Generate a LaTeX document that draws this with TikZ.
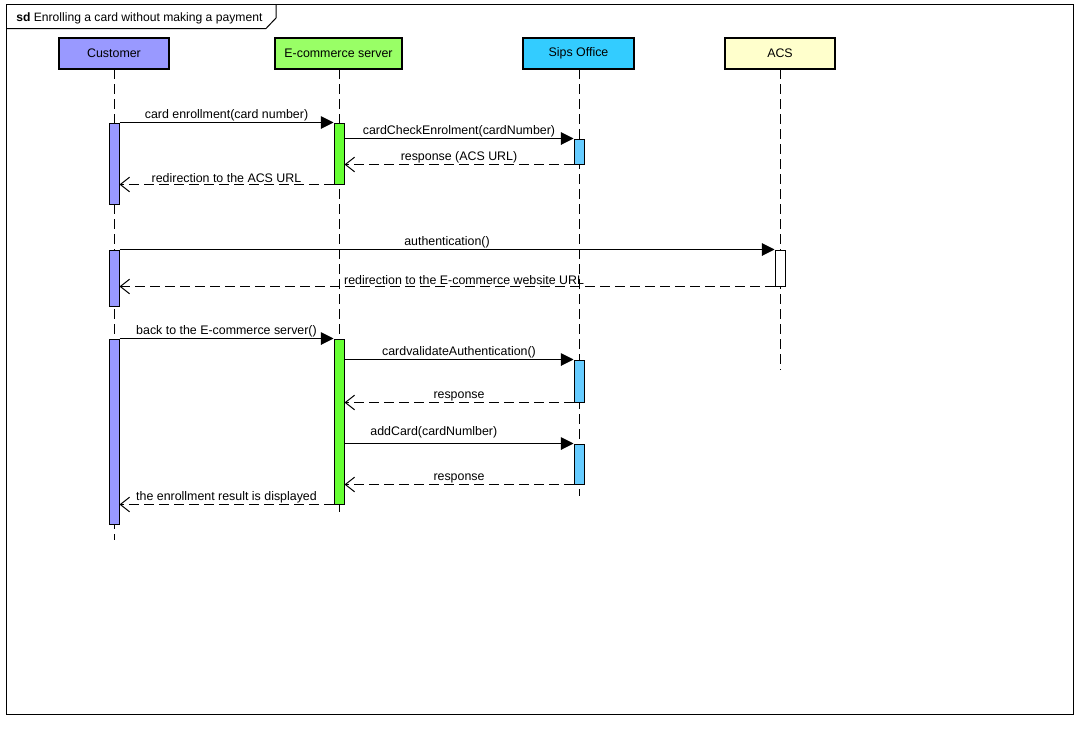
\documentclass[tikz,border=0pt]{standalone}
\usepackage{fontspec}
\setmainfont{Liberation Sans}
\usetikzlibrary{arrows.meta,fit}
\definecolor{custc}{HTML}{9999FF}
\definecolor{ecomh}{HTML}{99FF66}
\definecolor{ecoma}{HTML}{66FF33}
\definecolor{sipsh}{HTML}{33CCFF}
\definecolor{sipsa}{HTML}{66CCFF}
\definecolor{acsh}{HTML}{FFFFCC}
\tikzset{
  head/.style={draw=black, line width=1.5pt, minimum width=82.5pt, minimum height=23.25pt, inner sep=0pt, font=\fontsize{9.3}{10}\selectfont},
  act/.style={draw=black, line width=0.75pt, inner sep=0pt},
  life/.style={line width=0.75pt, dash pattern=on 7.5pt off 3.75pt},
  call/.style={line width=0.75pt, -{Triangle[length=9.5pt,width=9.5pt]}},
  reply/.style={line width=0.75pt, dash pattern=on 7.5pt off 3.75pt, -{Straight Barb[length=7pt,width=11pt,line width=0.75pt]}},
  lbl/.style={font=\fontsize{9.3}{10}\selectfont, inner sep=1pt, anchor=south}
}
\begin{document}
\begin{tikzpicture}[x=0.75pt,y=-0.75pt]
\useasboundingbox (0,0) rectangle (1084,728);
% frame
\node[draw=black, line width=0.75pt, inner sep=0pt, fit={(6,4)(1073,714)}] (frame) {};
\draw[line width=0.75pt] (6,28.5) -- (266,28.5) -- (276,18) -- (276,4);
\node[anchor=base west, inner sep=0pt, font=\fontsize{9.1}{10}\selectfont] (title) at (16,21.5) {\textbf{sd} Enrolling a card without making a payment};
% lifelines
\coordinate (cend) at (114,540);
\coordinate (eend) at (339,512);
\coordinate (send) at (579,496);
\coordinate (aend) at (780,370);
\draw[life] (114,69) -- (cend);
\draw[life] (339,69) -- (eend);
\draw[life] (579,69) -- (send);
\draw[life] (780,69) -- (aend);
% heads
\node[head, fill=custc, minimum width=82.5pt] (cust) at (114,53.5) {Customer};
\node[head, fill=ecomh, minimum width=95.25pt] (ecom) at (338.5,53.5) {E-commerce server};
\node[head, fill=sipsh, minimum width=83.25pt] (sips) at (578.5,53.5) {Sips Office};
\node[head, fill=acsh, minimum width=82.5pt] (acs) at (780,53.5) {ACS};
% activations
\node[act, fill=custc, fit={(109,123)(119,204)}] (c1) {};
\node[act, fill=custc, fit={(109,250)(119,306)}] (c2) {};
\node[act, fill=custc, fit={(109,339)(119,524)}] (c3) {};
\node[act, fill=ecoma, fit={(334,123)(344,184)}] (e1) {};
\node[act, fill=ecoma, fit={(334,339)(344,504)}] (e2) {};
\node[act, fill=sipsa, fit={(574,139)(584,164)}] (s1) {};
\node[act, fill=sipsa, fit={(574,360)(584,402)}] (s2) {};
\node[act, fill=sipsa, fit={(574,444)(584,484)}] (s3) {};
\node[act, fill=white, fit={(775,250)(785,286)}] (a1) {};
% messages
\draw[call] (c1.north east) -- node[lbl]{card enrollment(card number)} (e1.north west);
\draw[call] (e1.east |- s1.north) -- node[lbl]{cardCheckEnrolment(cardNumber)} (s1.north west);
\draw[reply] (s1.south west) -- node[lbl]{response (ACS URL)} (e1.east |- s1.south);
\draw[reply] (e1.south west) -- node[lbl]{redirection to the ACS URL} (c1.east |- e1.south);
\draw[call] (c2.north east) -- node[lbl]{authentication()} (a1.north west);
\draw[reply] (a1.south west) -- node[lbl, pos=0.474]{redirection to the E-commerce website URL} (c2.east |- a1.south);
\draw[call] (c3.north east) -- node[lbl]{back to the E-commerce server()} (e2.north west);
\draw[call] (e2.east |- s2.north) -- node[lbl]{cardvalidateAuthentication()} (s2.north west);
\draw[reply] (s2.south west) -- node[lbl]{response} (e2.east |- s2.south);
\draw[call] (e2.east |- s3.north) -- node[lbl, pos=0.39, yshift=3pt]{addCard(cardNumlber)} (s3.north west);
\draw[reply] (s3.south west) -- node[lbl]{response} (e2.east |- s3.south);
\draw[reply] (e2.south west) -- node[lbl]{the enrollment result is displayed} (c3.east |- e2.south);
\end{tikzpicture}
\end{document}
